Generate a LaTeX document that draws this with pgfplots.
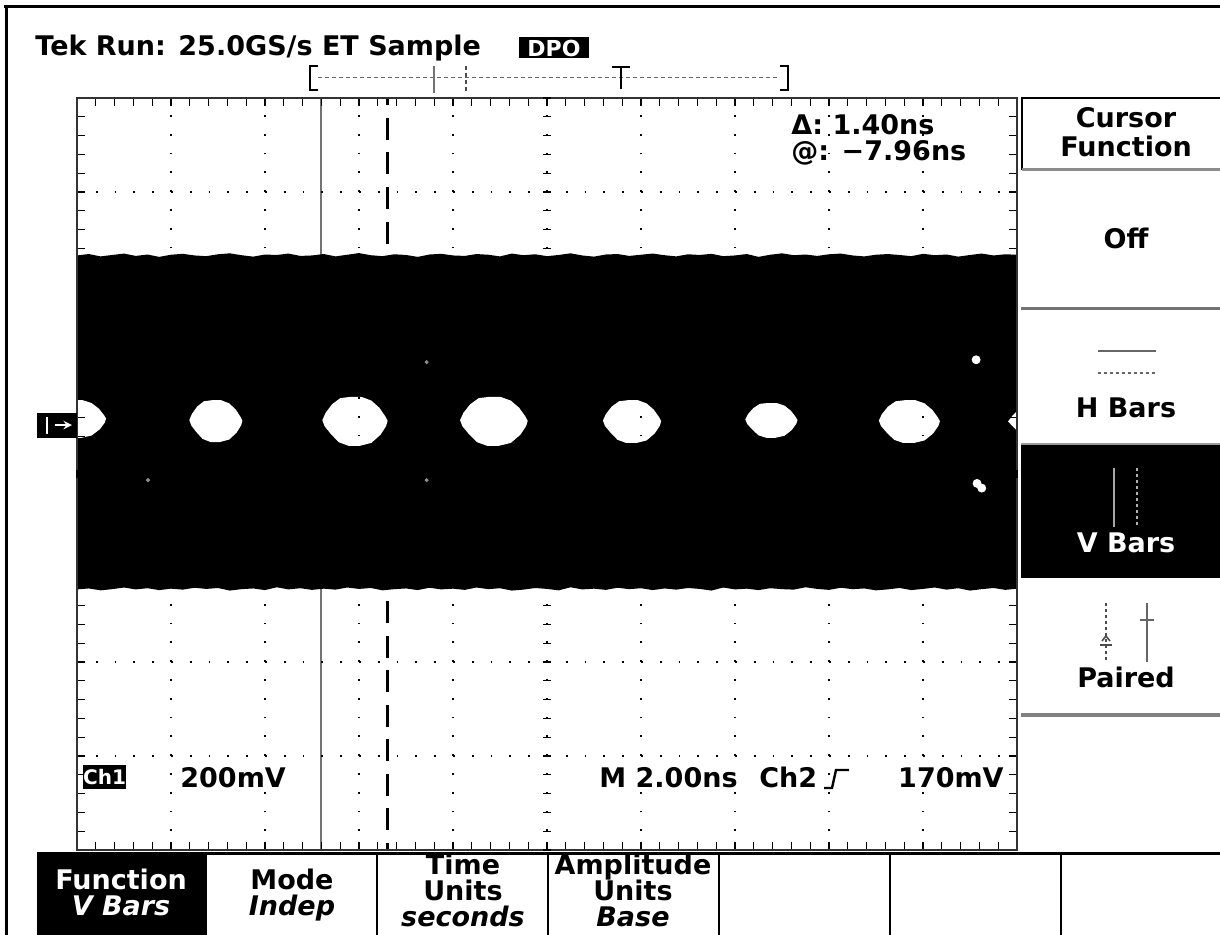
\documentclass[border=0pt]{standalone}
\usepackage{pgfplots}
\pgfplotsset{compat=1.18}
\usepackage{fontspec}
\setmainfont{DejaVu Sans}
\newcommand\tf{\fontsize{13.5}{16}\selectfont\bfseries}
\begin{document}
\begin{tikzpicture}
\path[use as bounding box] (0pt,0pt) rectangle (610pt,467pt);
\begin{axis}[
  at={(38.5pt,42pt)}, anchor=south west,
  scale only axis, width=470pt, height=376pt,
  xmin=-10, xmax=10, ymin=-800, ymax=800,
  xtick={-10,-8,...,10}, ytick={-800,-600,...,800},
  minor x tick num=4, minor y tick num=4,
  xticklabels={}, yticklabels={},
  tick align=inside, major tick length=4pt, minor tick length=4pt,
  every tick/.style={black, line width=0.6pt},
  grid=major,
  major grid style={black, line width=0.9pt, dash pattern=on 0.9pt off 8.5pt},
  axis line style={black!80, line width=1.2pt},
  axis on top,
]
% cursors
\addplot[black!55, line width=1pt] coordinates {(-4.8,-800) (-4.8,800)};
\addplot[black, line width=1.6pt, dash pattern=on 11pt off 6.25pt, dash phase=7.25pt] coordinates {(-3.4,800) (-3.4,-800)};
% signal band
\addplot[fill=black, draw=none] coordinates {
(-10,465) (-9.75,468) (-9.5,463) (-9.25,466) (-9,469) (-8.75,464) (-8.5,467) (-8.25,462) (-8,466.5) (-7.75,468.5)
(-7.5,465) (-7.25,463.5) (-7,467.5) (-6.75,469.5) (-6.5,465.5) (-6.25,462.5) (-6,467) (-5.75,466) (-5.5,469) (-5.25,464)
(-5,465) (-4.75,468) (-4.5,463) (-4.25,466.5) (-4,470) (-3.75,465.5) (-3.5,463.5) (-3.25,467.5) (-3,466) (-2.75,462)
(-2.5,467) (-2.25,468.5) (-2,465) (-1.75,464) (-1.5,468) (-1.25,466.5) (-1,463) (-0.75,469) (-0.5,465.5) (-0.25,467.5)
(0,463.5) (0.25,466) (0.5,469.5) (0.75,465) (1,462.5) (1.25,467) (1.5,468) (1.75,464) (2,466.5) (2.25,469)
(2.5,465.5) (2.75,463) (3,467.5) (3.25,466) (3.5,468.5) (3.75,463.5) (4,465) (4.25,468) (4.5,462) (4.75,466.5)
(5,469.5) (5.25,465.5) (5.5,467) (5.75,464) (6,467.5) (6.25,469) (6.5,465) (6.75,463) (7,466.5) (7.25,468)
(7.5,466) (7.75,463.5) (8,468.5) (8.25,465.5) (8.5,467) (8.75,462.5) (9,466) (9.25,469) (9.5,465) (9.75,467.5)
(10,466.5)
(10,-244) (9.75,-246.5) (9.5,-242.5) (9.25,-245) (9,-248) (8.75,-243) (8.5,-246) (8.25,-241.5) (8,-244.5) (7.75,-247)
(7.5,-242.5) (7.25,-245.5) (7,-247.5) (6.75,-243.5) (6.5,-245) (6.25,-242) (6,-246.5) (5.75,-244.5) (5.5,-241) (5.25,-246)
(5,-245) (4.75,-243) (4.5,-247) (4.25,-244) (4,-245.5) (3.75,-241.5) (3.5,-248) (3.25,-244.5) (3,-242.5) (2.75,-246)
(2.5,-243.5) (2.25,-247) (2,-243) (1.75,-245) (1.5,-242) (1.25,-246.5) (1,-244) (0.75,-245.5) (0.5,-241) (0.25,-247.5)
(0,-244.5) (-0.25,-242.5) (-0.5,-246) (-0.75,-248) (-1,-243) (-1.25,-245) (-1.5,-241.5) (-1.75,-246.5) (-2,-244) (-2.25,-245.5)
(-2.5,-242) (-2.75,-247) (-3,-243.5) (-3.25,-245) (-3.5,-247.5) (-3.75,-242.5) (-4,-244.5) (-4.25,-241.5) (-4.5,-246) (-4.75,-244)
(-5,-246.5) (-5.25,-243) (-5.5,-245.5) (-5.75,-241) (-6,-247) (-6.25,-243.5) (-6.5,-245) (-6.75,-248) (-7,-242.5) (-7.25,-244.5)
(-7.5,-242) (-7.75,-246) (-8,-244) (-8.25,-247) (-8.5,-243) (-8.75,-245.5) (-9,-241.5) (-9.25,-245) (-9.5,-247.5) (-9.75,-243.5)
(-10,-245.5)
} -- cycle;
% eye openings
\addplot[fill=white, draw=none] coordinates {(-10.2,157) (-9.876,157) (-9.69,151) (-9.535,139) (-9.423,125) (-9.38,118) (-9.411,109) (-9.516,95) (-9.69,81.8) (-9.907,77) (-10.2,77)} -- cycle;
\addplot[fill=white, draw=none] coordinates {(-7.61,114.7) (-7.554,128.1) (-7.441,143.7) (-7.299,154.8) (-7.13,157) (-6.932,157) (-6.762,150.3) (-6.621,137) (-6.52,121.4) (-6.48,113.4) (-6.508,103.6) (-6.604,88) (-6.762,73.3) (-6.96,68) (-7.158,68) (-7.328,74.7) (-7.469,90.2) (-7.57,103.6)} -- cycle;
\addplot[fill=white, draw=none] coordinates {(-4.78,114.6) (-4.711,130.2) (-4.572,148.4) (-4.398,161.4) (-4.189,164) (-3.946,164) (-3.737,156.2) (-3.564,140.6) (-3.439,122.4) (-3.39,113) (-3.425,101.6) (-3.543,83.4) (-3.737,66.2) (-3.981,60) (-4.224,60) (-4.433,67.8) (-4.606,86) (-4.731,101.6)} -- cycle;
\addplot[fill=white, draw=none] coordinates {(-1.85,114.6) (-1.778,130.2) (-1.634,148.4) (-1.454,161.4) (-1.238,164) (-0.986,164) (-0.77,156.2) (-0.59,140.6) (-0.46,122.4) (-0.41,113) (-0.446,101.6) (-0.568,83.4) (-0.77,66.2) (-1.022,60) (-1.274,60) (-1.49,67.8) (-1.67,86) (-1.80,101.6)} -- cycle;
\addplot[fill=white, draw=none] coordinates {(1.19,113.8) (1.252,127.4) (1.376,143.4) (1.531,154.7) (1.717,157) (1.934,157) (2.12,150.2) (2.275,136.5) (2.387,120.6) (2.43,112.4) (2.399,102.4) (2.294,86.5) (2.12,71.5) (1.903,66) (1.686,66) (1.5,72.8) (1.345,88.75) (1.233,102.4)} -- cycle;
\addplot[fill=white, draw=none] coordinates {(4.22,115.9) (4.275,127) (4.386,139.9) (4.525,149.2) (4.692,151) (4.886,151) (5.053,145.5) (5.191,134.4) (5.291,121.4) (5.33,114.7) (5.302,106.6) (5.208,93.6) (5.053,81.4) (4.858,77) (4.664,77) (4.497,82.5) (4.359,95.5) (4.259,106.6)} -- cycle;
\addplot[fill=white, draw=none] coordinates {(7.06,113.8) (7.125,127.4) (7.255,143.4) (7.417,154.7) (7.612,157) (7.84,157) (8.035,150.2) (8.198,136.5) (8.315,120.6) (8.36,112.4) (8.328,102.4) (8.217,86.5) (8.035,71.5) (7.808,66) (7.58,66) (7.385,72.8) (7.222,88.75) (7.105,102.4)} -- cycle;
\addplot[fill=white, draw=none] coordinates {(9.81,112) (9.92,126) (10.05,138) (10.05,88) (9.92,100)} -- cycle;
% stray samples
\addplot[only marks, mark=*, mark size=2pt, white] coordinates {(9.13,243) (9.15,-20) (9.25,-30)};
\addplot[only marks, mark=*, mark size=0.8pt, black!45] coordinates {(-2.56,238) (-8.49,-13) (-2.56,-13)};
\end{axis}
% centre cross ticks
\begin{axis}[
  at={(38.5pt,42pt)}, anchor=south west,
  scale only axis, width=470pt, height=376pt,
  xmin=-10, xmax=10, ymin=-800, ymax=800,
  axis lines=middle, axis line style={draw=none},
  xtick={-10,-8,...,10}, ytick={-800,-600,...,800},
  minor x tick num=4, minor y tick num=4,
  xticklabels={}, yticklabels={},
  tick align=center, major tick length=4pt, minor tick length=4pt,
  every tick/.style={black, line width=0.6pt},
]
\end{axis}
\begin{scope}[x=0.5pt, y=-0.5pt, shift={(0pt,467pt)}]
% outer frame
\draw[black, line width=1.5pt] (4,7) -- (1222,7);
\draw[black, line width=1.5pt] (6,5) -- (6,936);
% top status line
\node[anchor=base west, inner sep=0pt] at (35,56) {\tf Tek Run: 25.0GS/s ET Sample};
\fill[black] (519,37) rectangle (589,58);
\node[white, inner sep=0pt] at (554,48) {\fontsize{11}{12}\selectfont\bfseries DPO};
% record view bar
\draw[line width=1.2pt] (318,66) -- (310,66) -- (310,90) -- (318,90);
\draw[line width=1.2pt] (780,66) -- (788,66) -- (788,90) -- (780,90);
\draw[black!60, line width=0.5pt, dash pattern=on 2pt off 1.5pt] (318,78) -- (780,78);
\draw[line width=1.2pt] (612,67) -- (630,67);
\draw[line width=1.2pt] (621,67) -- (621,89);
\draw[black!55, line width=0.8pt] (434,66) -- (434,93);
\draw[black!70, line width=0.8pt, dash pattern=on 2pt off 1.5pt] (466,66) -- (466,93);
% cursor readout
\node[anchor=base west, inner sep=0pt] at (791,135) {\tf Δ: 1.40ns};
\node[anchor=base west, inner sep=0pt] at (791,160) {\tf @: −7.96ns};
% channel marker
\fill[black] (37,413) rectangle (77,438);
\draw[white, line width=1.2pt] (47,417) -- (47,434);
\draw[white, line width=0.9pt, -stealth] (55,425) -- (72,425);
% bottom readout
\fill[black] (83,765) rectangle (126,789);
\node[white, inner sep=0pt] at (104.5,777) {\fontsize{10}{11}\selectfont\bfseries Ch1};
\node[anchor=base west, inner sep=1pt, fill=white] at (178,787) {\tf 200mV};
\node[anchor=base west, inner sep=1pt, fill=white] at (597,787) {\tf M 2.00ns};
\node[anchor=base west, inner sep=1pt, fill=white] at (757,787) {\tf Ch2};
\draw[line width=1.2pt] (824,788) -- (832,788) -- (836,770) -- (849,770);
\node[anchor=base east, inner sep=1pt, fill=white] at (1006,787) {\tf 170mV};
% right side menu
\draw[black, line width=0.8pt] (1022,170) -- (1022,98) -- (1222,98);
\draw[black!45, line width=1.5pt] (1022,170) -- (1222,170);
\node[anchor=base, inner sep=0pt] at (1126,128) {\tf Cursor};
\node[anchor=base, inner sep=0pt] at (1126,157) {\tf Function};
\node[anchor=base, inner sep=0pt] at (1126,248) {\tf Off};
\draw[black!55, line width=1.5pt] (1021,308) -- (1222,308);
\draw[black!60, line width=0.8pt] (1098,351) -- (1156,351);
\draw[black!60, line width=0.8pt, dash pattern=on 1.5pt off 1.5pt] (1098,373) -- (1156,373);
\node[anchor=base, inner sep=0pt] at (1126,417) {\tf H Bars};
\fill[black] (1021,444) rectangle (1222,578);
\draw[black!40, line width=0.6pt] (1021,444) -- (1222,444);
\draw[black!35, line width=0.8pt] (1114,468) -- (1114,527);
\draw[black!30, line width=0.8pt, dash pattern=on 1.5pt off 1.5pt] (1137,468) -- (1137,527);
\node[anchor=base, inner sep=0pt, white] at (1126,552) {\tf V Bars};
\draw[black!70, line width=0.8pt, dash pattern=on 1.5pt off 1.5pt] (1106,603) -- (1106,662);
\draw[black!70, line width=0.8pt] (1100,645) -- (1112,645);
\draw[black!70, line width=0.8pt] (1102,641) -- (1106,636) -- (1110,641);
\draw[black!60, line width=0.8pt] (1147,603) -- (1147,662);
\draw[black!60, line width=0.8pt] (1140,620) -- (1154,620);
\node[anchor=base, inner sep=0pt] at (1126,687) {\tf Paired};
\draw[black!50, line width=1.8pt] (1021,715) -- (1222,715);
% bottom menu
\fill[black] (37,853) rectangle (206,936);
\draw[black, line width=1.5pt] (37,853) -- (1222,853);
\foreach \xx in {206,377,548,719,890,1061} {\draw[black, line width=1.3pt] (\xx,853) -- (\xx,936);}
\node[anchor=base, inner sep=0pt, white] at (121,889) {\tf Function};
\node[anchor=base, inner sep=0pt, white] at (121,915) {\tf\itshape V Bars};
\node[anchor=base, inner sep=0pt] at (292,889) {\tf Mode};
\node[anchor=base, inner sep=0pt] at (292,915) {\tf\itshape Indep};
\node[anchor=base, inner sep=0pt] at (463,874) {\tf Time};
\node[anchor=base, inner sep=0pt] at (463,900) {\tf Units};
\node[anchor=base, inner sep=0pt] at (463,926) {\tf\itshape seconds};
\node[anchor=base, inner sep=0pt] at (633,874) {\tf Amplitude};
\node[anchor=base, inner sep=0pt] at (633,900) {\tf Units};
\node[anchor=base, inner sep=0pt] at (633,926) {\tf\itshape Base};
\end{scope}
\end{tikzpicture}
\end{document}
